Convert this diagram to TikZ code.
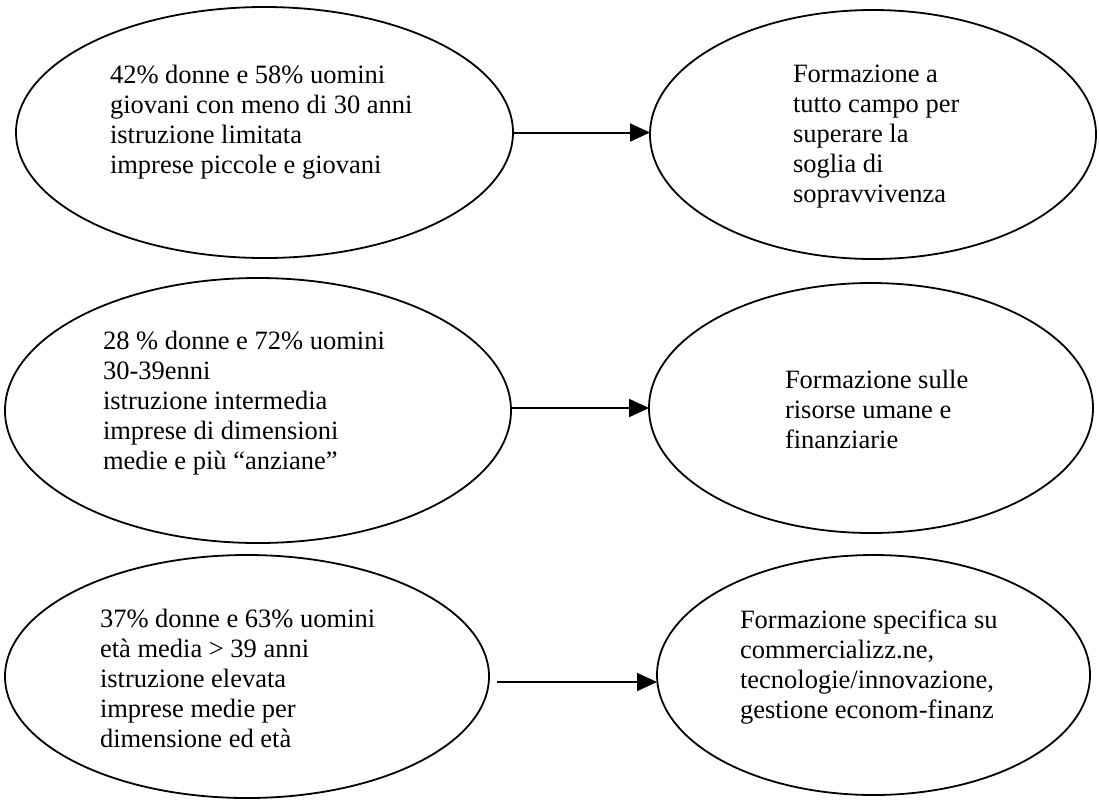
\documentclass[tikz,border=0pt]{standalone}
\usepackage{fontspec}
\setmainfont{Liberation Serif}
\usetikzlibrary{arrows.meta,shapes.geometric}
\tikzset{
  ell/.style={draw=black, line width=1.8pt, ellipse, inner sep=0pt, outer sep=0pt},
  txt/.style={inner sep=0pt, outer sep=0pt, anchor=base west, font=\fontsize{26.5}{30}\selectfont},
  arr/.style={draw=black, line width=2pt, -{Triangle[length=20pt,width=18pt]}}
}
\begin{document}
\begin{tikzpicture}[x=1pt,y=-1pt]
\useasboundingbox[fill=white] (0,0) rectangle (1099,801);
% ellipses
\node[ell, minimum width=497pt, minimum height=251pt] (e1) at (264.5,132.5) {};
\node[ell, minimum width=446pt, minimum height=249pt] (e2) at (873,134.5) {};
\node[ell, minimum width=506pt, minimum height=265pt] (e3) at (258,410.5) {};
\node[ell, minimum width=444pt, minimum height=250pt] (e4) at (871,408) {};
\node[ell, minimum width=484pt, minimum height=243pt] (e5) at (247,676.5) {};
\node[ell, minimum width=433pt, minimum height=240pt] (e6) at (873.5,675) {};
% texts
\node[txt] (t1) at (110,83) {\begin{tabular}[t]{@{}l@{}}42\% donne e 58\% uomini\\giovani con meno di 30 anni\\istruzione limitata\\imprese piccole e giovani\end{tabular}};
\node[txt] (t2) at (793,82) {\begin{tabular}[t]{@{}l@{}}Formazione a\\tutto campo per\\superare la\\soglia di\\sopravvivenza\end{tabular}};
\node[txt] (t3) at (103,349) {\begin{tabular}[t]{@{}l@{}}28 \% donne e 72\% uomini\\30-39enni\\istruzione intermedia\\imprese di dimensioni\\medie e più “anziane”\end{tabular}};
\node[txt] (t4) at (785,388) {\begin{tabular}[t]{@{}l@{}}Formazione sulle\\risorse umane e\\finanziarie\end{tabular}};
\node[txt] (t5) at (100,627) {\begin{tabular}[t]{@{}l@{}}37\% donne e 63\% uomini\\età media > 39 anni\\istruzione elevata\\imprese medie per\\dimensione ed età\end{tabular}};
\node[txt] (t6) at (740,628) {\begin{tabular}[t]{@{}l@{}}Formazione specifica su\\commercializz.ne,\\tecnologie/innovazione,\\gestione econom-finanz\end{tabular}};
% arrows
\draw[arr] (e1.east) -- (e1.east -| e2.west);
\draw[arr] (e3.east |- e4.west) -- (e4.west);
\coordinate (a3s) at (497,682);
\draw[arr] (a3s) -- (a3s -| e6.west);
\end{tikzpicture}
\end{document}
